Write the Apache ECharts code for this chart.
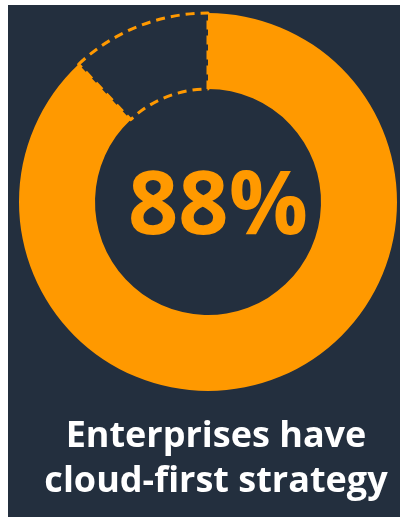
<!DOCTYPE html>
<html>
<head>
<meta charset="utf-8">
<script src="https://cdn.jsdelivr.net/npm/echarts@6/dist/echarts.min.js"></script>
<style>
html,body{margin:0;padding:0;background:#ffffff;}
#chart{width:400px;height:517px;}
</style>
</head>
<body>
<div id="chart"></div>
<script>
const categories = ['Cloud-first strategy', 'Other'];
const values = [88, 12];
const centerLabel = '88%';
const captionLines = ['Enterprises have', 'cloud-first strategy'];

const ORANGE = '#FF9900';
const BG = '#232F3E';

const chart = echarts.init(document.getElementById('chart'), null, {renderer: 'canvas'});
chart.setOption({
  backgroundColor: '#ffffff',
  animation: false,
  graphic: [
    {type: 'rect', shape: {x: 8, y: 5, width: 392, height: 512}, style: {fill: BG}, z: -10}
  ],
  title: [
    {
      text: centerLabel,
      left: 213, top: 156, textAlign: 'center',
      textStyle: {color: ORANGE, fontFamily: 'Open Sans', fontWeight: 'bold', fontSize: 88, lineHeight: 96}
    },
    {
      text: captionLines.join('\n'),
      left: 211, top: 409, textAlign: 'center',
      textStyle: {color: '#ffffff', fontFamily: 'Open Sans', fontWeight: 'bold', fontSize: 36, lineHeight: 45}
    }
  ],
  series: [{
    type: 'pie',
    center: [208, 202],
    radius: [113, 189],
    startAngle: 90,
    clockwise: true,
    silent: true,
    label: {show: false},
    labelLine: {show: false},
    data: categories.map((c, i) => ({
      name: c,
      value: values[i],
      itemStyle: i === 0
        ? {color: ORANGE, borderWidth: 0}
        : {color: 'rgba(0,0,0,0)', borderColor: ORANGE, borderWidth: 3, borderType: [9, 6]}
    }))
  }]
});
</script>
</body>
</html>
